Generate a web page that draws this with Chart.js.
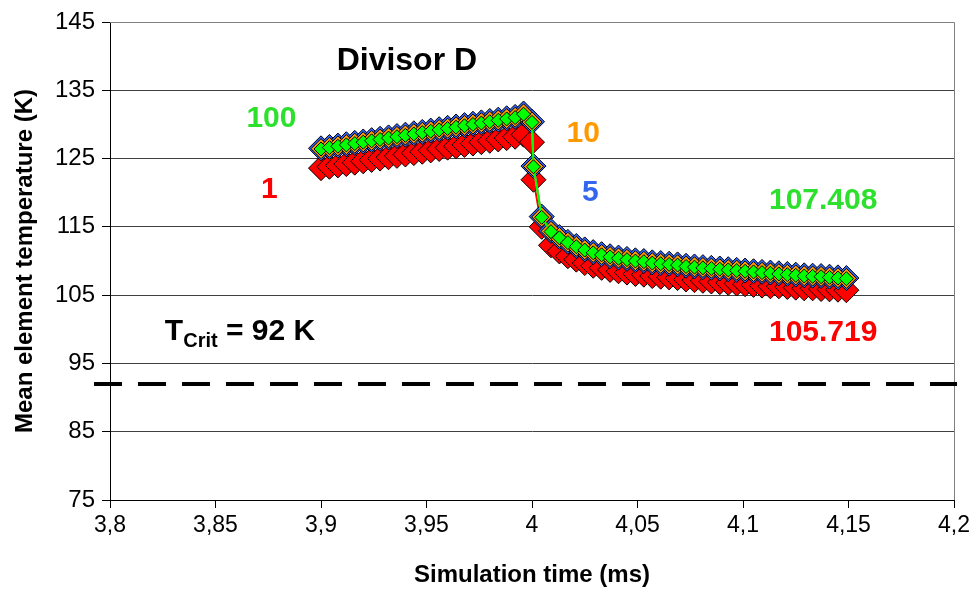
<!DOCTYPE html>
<html>
<head>
<meta charset="utf-8">
<script src="https://cdn.jsdelivr.net/npm/chart.js@4.4.1/dist/chart.umd.min.js"></script>
<style>
  html, body { margin: 0; padding: 0; background: #ffffff; }
  #wrap { width: 974px; height: 594px; }
</style>
</head>
<body>
<div id="wrap"><canvas id="chart" width="974" height="594"></canvas></div>
<script>
// Simulation time (ms) of each sample
const timeMs = [
  3.900, 3.904, 3.908, 3.912, 3.916, 3.920, 3.924, 3.928, 3.932, 3.936,
  3.940, 3.944, 3.948, 3.952, 3.956, 3.960, 3.964, 3.968, 3.972, 3.976,
  3.980, 3.984, 3.988, 3.992, 3.996,
  4.000, 4.0007, 4.0046,
  4.009, 4.013, 4.017, 4.021, 4.025, 4.029, 4.033, 4.037, 4.041, 4.045,
  4.049, 4.053, 4.057, 4.061, 4.065, 4.069, 4.073, 4.077, 4.081, 4.085,
  4.089, 4.093, 4.097, 4.101, 4.105, 4.109, 4.113, 4.117, 4.121, 4.125,
  4.129, 4.133, 4.137, 4.141, 4.145, 4.149
];

// Mean element temperature (K) for each divisor D
const divisor1 = [
  123.6, 123.8, 124.0, 124.2, 124.4, 124.6, 124.8, 125.0, 125.2, 125.4,
  125.6, 125.8, 126.0, 126.2, 126.4, 126.6, 126.8, 127.0, 127.2, 127.4,
  127.6, 127.8, 128.0, 128.2, 128.5,
  127.4, 121.9, 115.0,
  112.3, 111.4, 110.7, 110.2, 109.7, 109.3, 109.0, 108.7, 108.5, 108.3,
  108.1, 108.0, 107.8, 107.7, 107.6, 107.5, 107.3, 107.2, 107.1, 107.0,
  106.9, 106.8, 106.7, 106.6, 106.5, 106.4, 106.3, 106.3, 106.2, 106.1,
  106.0, 106.0, 105.9, 105.85, 105.8, 105.719
];
const divisor5 = [
  126.5, 126.7, 126.9, 127.1, 127.3, 127.5, 127.7, 127.9, 128.1, 128.3,
  128.5, 128.7, 128.9, 129.1, 129.3, 129.5, 129.7, 129.9, 130.1, 130.3,
  130.5, 130.7, 130.9, 131.1, 131.6,
  130.4, 123.9, 116.5,
  114.4, 113.5, 112.8, 112.2, 111.7, 111.3, 111.0, 110.7, 110.5, 110.3,
  110.1, 110.0, 109.8, 109.7, 109.6, 109.5, 109.3, 109.2, 109.1, 109.0,
  108.9, 108.8, 108.7, 108.6, 108.5, 108.4, 108.3, 108.2, 108.1, 108.0,
  107.9, 107.85, 107.8, 107.7, 107.6, 107.5
];
const divisor10 = [
  126.45, 126.65, 126.85, 127.05, 127.25, 127.45, 127.65, 127.85, 128.05, 128.25,
  128.45, 128.65, 128.85, 129.05, 129.25, 129.45, 129.65, 129.85, 130.05, 130.25,
  130.45, 130.65, 130.85, 131.05, 131.55,
  130.35, 123.85, 116.45,
  114.35, 113.45, 112.75, 112.15, 111.65, 111.25, 110.95, 110.65, 110.45, 110.25,
  110.05, 109.95, 109.75, 109.65, 109.55, 109.45, 109.25, 109.15, 109.05, 108.95,
  108.85, 108.75, 108.65, 108.55, 108.45, 108.35, 108.25, 108.15, 108.05, 107.95,
  107.85, 107.8, 107.75, 107.65, 107.55, 107.45
];
const divisor100 = [
  126.4, 126.6, 126.8, 127.0, 127.2, 127.4, 127.6, 127.8, 128.0, 128.2,
  128.4, 128.6, 128.8, 129.0, 129.2, 129.4, 129.6, 129.8, 130.0, 130.2,
  130.4, 130.6, 130.8, 131.0, 131.5,
  130.3, 123.8, 116.4,
  114.3, 113.4, 112.7, 112.1, 111.6, 111.2, 110.9, 110.6, 110.4, 110.2,
  110.0, 109.9, 109.7, 109.6, 109.5, 109.4, 109.2, 109.1, 109.0, 108.9,
  108.8, 108.7, 108.6, 108.5, 108.4, 108.3, 108.2, 108.1, 108.0, 107.9,
  107.8, 107.75, 107.7, 107.6, 107.5, 107.408
];

const xTickLabels = ['3,8', '3,85', '3,9', '3,95', '4', '4,05', '4,1', '4,15', '4,2'];
const T_CRIT = 92;

const FONT = "'Liberation Sans', Arial, Helvetica, sans-serif";
const GREEN_TEXT = '#2ee02e';

function toPoints(values) {
  return values.map((v, i) => ({ x: timeMs[i], y: v }));
}

function series(label, values, fill, radius, order) {
  return {
    label,
    data: toPoints(values),
    showLine: true,
    borderColor: fill,
    borderWidth: 2,
    backgroundColor: fill,
    pointStyle: 'rectRot',
    pointRadius: radius,
    pointBackgroundColor: fill,
    pointBorderColor: '#000000',
    pointBorderWidth: 1,
    tension: 0,
    order
  };
}

// Frame, critical-temperature line and text labels
const decorations = {
  id: 'decorations',
  afterDraw(chart) {
    const { ctx, chartArea: a, scales: { x, y } } = chart;
    ctx.save();

    // top and right edge of the plot area
    ctx.strokeStyle = '#808080';
    ctx.lineWidth = 1;
    ctx.beginPath();
    ctx.moveTo(a.left, a.top + 0.5);
    ctx.lineTo(a.right + 0.5, a.top + 0.5);
    ctx.lineTo(a.right + 0.5, a.bottom);
    ctx.stroke();

    // critical temperature
    const yc = Math.round(y.getPixelForValue(T_CRIT));
    ctx.strokeStyle = '#000000';
    ctx.lineWidth = 4;
    ctx.setLineDash([28, 16]);
    ctx.beginPath();
    ctx.moveTo(a.left - 16, yc);
    ctx.lineTo(a.right + 3, yc);
    ctx.stroke();
    ctx.setLineDash([]);

    const last100 = divisor100[divisor100.length - 1];
    const last1 = divisor1[divisor1.length - 1];
    const notes = [
      { text: 'Divisor D', tx: 3.9407, ty: 139.7, color: '#000000', size: 32 },
      { text: '100', tx: 3.8765, ty: 131.2, color: GREEN_TEXT, size: 30 },
      { text: '1', tx: 3.8755, ty: 120.8, color: '#ff0000', size: 30 },
      { text: '10', tx: 4.0243, ty: 129.0, color: '#ff9900', size: 30 },
      { text: '5', tx: 4.0276, ty: 120.3, color: '#3366ee', size: 30 },
      { text: String(last100), tx: 4.138, ty: 119.2, color: GREEN_TEXT, size: 30 },
      { text: String(last1), tx: 4.138, ty: 99.8, color: '#ff0000', size: 30 }
    ];
    ctx.textAlign = 'center';
    ctx.textBaseline = 'alphabetic';
    notes.forEach(n => {
      ctx.font = `bold ${n.size}px ${FONT}`;
      ctx.fillStyle = n.color;
      const px = x.getPixelForValue(n.tx);
      const py = y.getPixelForValue(n.ty) + 0.358 * n.size;
      ctx.fillText(n.text, px, py);
    });

    // T_Crit label
    ctx.textAlign = 'left';
    ctx.fillStyle = '#000000';
    let px = x.getPixelForValue(3.826);
    const base = y.getPixelForValue(98.45);
    ctx.font = `bold 30px ${FONT}`;
    ctx.fillText('T', px, base);
    px += ctx.measureText('T').width;
    ctx.font = `bold 20px ${FONT}`;
    ctx.fillText('Crit', px, base + 7);
    px += ctx.measureText('Crit').width;
    ctx.font = `bold 30px ${FONT}`;
    ctx.fillText(` = ${T_CRIT} K`, px, base);

    ctx.restore();
  }
};

new Chart(document.getElementById('chart'), {
  type: 'scatter',
  data: {
    datasets: [
      series('100', divisor100, '#00ff00', 7, 1),
      series('10', divisor10, '#ff9900', 10, 2),
      series('5', divisor5, '#3366ff', 12.5, 3),
      series('1', divisor1, '#ff0000', 12.5, 4)
    ]
  },
  options: {
    responsive: false,
    animation: false,
    events: [],
    layout: { padding: { top: 22, right: 17, left: 0, bottom: 0 } },
    plugins: { legend: { display: false }, tooltip: { enabled: false } },
    scales: {
      x: {
        type: 'linear',
        min: 3.8,
        max: 4.2,
        afterFit(s) { s.height = 94; },
        ticks: {
          stepSize: 0.05,
          color: '#000000',
          padding: 4,
          maxRotation: 0,
          font: { family: FONT, size: 23 },
          callback: (v, i) => xTickLabels[i]
        },
        grid: { drawOnChartArea: false, drawTicks: true, tickLength: 8, tickColor: '#000000' },
        border: { color: '#000000', width: 1 },
        title: {
          display: true,
          text: 'Simulation time (ms)',
          color: '#000000',
          font: { family: FONT, size: 24, weight: 'bold' },
          padding: { top: 0, bottom: 4 }
        }
      },
      y: {
        min: 75,
        max: 145,
        afterFit(s) { s.width = 110; },
        ticks: {
          stepSize: 10,
          color: '#000000',
          padding: 7,
          font: { family: FONT, size: 24 }
        },
        grid: { color: '#404040', lineWidth: 1, tickLength: 8, tickColor: '#000000' },
        border: { color: '#000000', width: 1 },
        title: {
          display: true,
          text: 'Mean element temperature (K)',
          color: '#000000',
          font: { family: FONT, size: 24, weight: 'bold' },
          padding: { top: 11, bottom: 0 }
        }
      }
    }
  },
  plugins: [decorations]
});
</script>
</body>
</html>
